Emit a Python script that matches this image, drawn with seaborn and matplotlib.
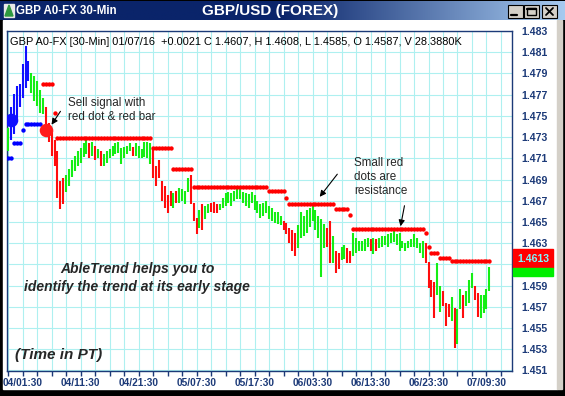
import matplotlib
matplotlib.use("Agg")
import numpy as np
import pandas as pd
import matplotlib.pyplot as plt
from matplotlib.patches import Rectangle, Polygon
from matplotlib.colors import LinearSegmentedColormap
import seaborn as sns

# ---- data (30-min bars, GBP/USD) ----
highs = [
    1.4739, 1.4758, 1.4771, 1.4778, 1.4780, 1.4799, 1.4816, 1.4802,
    1.4790, 1.4788, 1.4783, 1.4774, 1.4767,
    1.4758, 1.4743, 1.4736, 1.4727, 1.4717, 1.4689, 1.4691,
    1.4694, 1.4700, 1.4708, 1.4712, 1.4717, 1.4720, 1.4724, 1.4727,
    1.4724, 1.4725, 1.4722, 1.4719, 1.4717, 1.4714, 1.4717, 1.4719, 1.4722, 1.4724, 1.4725,
    1.4720, 1.4721, 1.4722, 1.4724, 1.4721, 1.4724, 1.4722, 1.4719, 1.4725, 1.4725, 1.4724,
    1.4719, 1.4703, 1.4708, 1.4689, 1.4684, 1.4675, 1.4679, 1.4677, 1.4679, 1.4682,
    1.4681, 1.4679, 1.4691, 1.4694,
    1.4668, 1.4654, 1.4661, 1.4667, 1.4665, 1.4667, 1.4668, 1.4669, 1.4667, 1.4667,
    1.4673, 1.4677, 1.4678, 1.4677, 1.4679, 1.4681, 1.4682, 1.4678, 1.4677, 1.4676,
    1.4678, 1.4675, 1.4670, 1.4667, 1.4668, 1.4670, 1.4665, 1.4663, 1.4659, 1.4659, 1.4656,
    1.4651, 1.4649, 1.4644, 1.4642, 1.4640,
    1.4647, 1.4659, 1.4656, 1.4661, 1.4663, 1.4665, 1.4661, 1.4656, 1.4653, 1.4648,
    1.4644, 1.4651, 1.4637, 1.4623, 1.4621, 1.4626, 1.4628, 1.4625, 1.4623,
    1.4640, 1.4635, 1.4632, 1.4632, 1.4634, 1.4635, 1.4634, 1.4635, 1.4634, 1.4635,
    1.4637, 1.4637, 1.4639, 1.4640, 1.4642, 1.4639, 1.4640, 1.4632, 1.4630, 1.4632,
    1.4634, 1.4639, 1.4635, 1.4630, 1.4632,
    1.4630, 1.4612, 1.4595, 1.4593, 1.4611, 1.4590, 1.4585, 1.4574, 1.4573, 1.4579,
    1.4569, 1.4568, 1.4587, 1.4581, 1.4585, 1.4595, 1.4602, 1.4590, 1.4583, 1.4581,
    1.4581, 1.4587, 1.4608,
]
lows = [
    1.4717, 1.4727, 1.4733, 1.4747, 1.4758, 1.4767, 1.4776, 1.4783,
    1.4772, 1.4764, 1.4759, 1.4753, 1.4752,
    1.4734, 1.4725, 1.4712, 1.4703, 1.4673, 1.4662, 1.4667,
    1.4678, 1.4684, 1.4692, 1.4698, 1.4703, 1.4706, 1.4711, 1.4714,
    1.4710, 1.4712, 1.4708, 1.4710, 1.4703, 1.4703, 1.4706, 1.4710, 1.4712, 1.4714, 1.4715,
    1.4705, 1.4710, 1.4714, 1.4717, 1.4712, 1.4712, 1.4710, 1.4710, 1.4711, 1.4710, 1.4705,
    1.4691, 1.4684, 1.4691, 1.4670, 1.4663, 1.4658, 1.4665, 1.4663, 1.4668, 1.4668,
    1.4670, 1.4667, 1.4678, 1.4667,
    1.4651, 1.4639, 1.4644, 1.4642, 1.4653, 1.4658, 1.4659, 1.4658, 1.4658, 1.4661,
    1.4663, 1.4665, 1.4668, 1.4665, 1.4670, 1.4672, 1.4672, 1.4668, 1.4665, 1.4663,
    1.4668, 1.4661, 1.4658, 1.4654, 1.4656, 1.4658, 1.4653, 1.4651, 1.4649, 1.4648, 1.4647,
    1.4642, 1.4639, 1.4630, 1.4623, 1.4618,
    1.4625, 1.4635, 1.4637, 1.4640, 1.4645, 1.4651, 1.4642, 1.4635, 1.4598, 1.4625,
    1.4626, 1.4611, 1.4611, 1.4602, 1.4606, 1.4614, 1.4615, 1.4611, 1.4611,
    1.4618, 1.4621, 1.4623, 1.4623, 1.4623, 1.4626, 1.4623, 1.4620, 1.4623, 1.4625,
    1.4626, 1.4628, 1.4626, 1.4630, 1.4631, 1.4628, 1.4623, 1.4625, 1.4623, 1.4625,
    1.4626, 1.4626, 1.4625, 1.4621, 1.4616,
    1.4611, 1.4588, 1.4579, 1.4559, 1.4581, 1.4565, 1.4571, 1.4552, 1.4560, 1.4557,
    1.4531, 1.4535, 1.4568, 1.4559, 1.4571, 1.4574, 1.4588, 1.4576, 1.4560, 1.4559,
    1.4564, 1.4568, 1.4585,
]
# B = blue (up trend), G = green, R = red (down trend)
bar_codes = ("GBBBBBBB" "GGGGG" "RRRRRRR" "GGGGGGGG"
             "RGRGRGGGGGGGGGGRGGGGGG" "RRRRRRRGRGGGGR" "RRGRGGRRRG"
             "GGGGGGGGGGGGGGGGGGGGG" "RRRRR" "GGGGGGGGGG" "RRGRRGGRR"
             "GGGGGGRGRGGGGGGGGGGGGGGGG" "RRRRGGRRRGRGGRGGGRRGGGG")

# (first bar, last bar, price) of the stop dots
resist_segments = [
    (12, 15, 1.4780), (16, 16, 1.4753), (17, 49, 1.4729), (50, 56, 1.4720),
    (57, 63, 1.4700), (64, 89, 1.4683), (90, 95, 1.4679), (96, 96, 1.4673),
    (97, 112, 1.4667), (113, 117, 1.4662), (118, 118, 1.4657), (119, 143, 1.4643),
    (144, 144, 1.4640), (145, 145, 1.4626), (146, 148, 1.4621), (149, 152, 1.4616),
    (153, 166, 1.4613),
]
support_segments = [(0, 1, 1.4710), (2, 4, 1.4724), (5, 5, 1.4737), (6, 11, 1.4742)]
sell_signal = (13, 1.4737)
buy_signal = (1, 1.4746)

price_ticks = [1.451, 1.453, 1.455, 1.457, 1.459, 1.461, 1.463, 1.465, 1.467,
               1.469, 1.471, 1.473, 1.475, 1.477, 1.479, 1.481, 1.483]
time_labels = ["04/01:30", "04/11:30", "04/21:30", "05/07:30", "05/17:30",
               "06/03:30", "06/13:30", "06/23:30", "07/09:30"]
last_price = "1.4613"
header = "GBP A0-FX [30-Min] 01/07/16  +0.0021 C 1.4607, H 1.4608, L 1.4585, O 1.4587, V 28.3880K"

# ---- tables ----
bars = pd.DataFrame({"bar": np.arange(len(highs)), "high": highs, "low": lows,
                     "code": list(bar_codes)})
resist = pd.DataFrame([(b, p) for a, e, p in resist_segments for b in range(a, e + 1)],
                      columns=["bar", "price"])
support = pd.DataFrame([(b, p) for a, e, p in support_segments for b in range(a, e + 1)],
                       columns=["bar", "price"])

sns.set_style("white")
plt.rcParams["font.family"] = ["Liberation Sans", "DejaVu Sans"]

navy = "#1c3a78"
grid_c = "#aef0f0"
code_colors = {"G": "#14ee14", "R": "#ff0d0d", "B": "#1010ff"}

fig = plt.figure(figsize=(5.65, 3.96), dpi=100)
fig.patch.set_facecolor("black")

# window chrome, pixel coordinates
bg = fig.add_axes([0, 0, 1, 1], zorder=0)
bg.set_xlim(0, 565)
bg.set_ylim(396, 0)
bg.axis("off")
bg.add_patch(Rectangle((3, 20), 554, 369, color="white"))
bg.add_patch(Rectangle((557, 20), 5, 369, color="#d4d0c8"))
cmap = LinearSegmentedColormap.from_list("title", ["#0a246a", "#0a246a", "#a6caf0"])
bg.imshow(np.linspace(0, 1, 256)[None, :], cmap=cmap, aspect="auto",
          extent=(0, 565, 20, 1), zorder=1)

# chart
ax = fig.add_axes([7 / 565, 25 / 396, 505 / 565, 340 / 396], zorder=1)
ax.set_facecolor("white")
ax.set_axisbelow(True)
ax.vlines(bars["bar"], bars["low"], bars["high"],
          colors=[code_colors[c] for c in bars["code"]], lw=1.5, zorder=3)
sns.scatterplot(data=resist, x="bar", y="price", color="#ff0000", s=10,
                linewidth=0, ax=ax, legend=False, zorder=4)
sns.scatterplot(data=support, x="bar", y="price", color="#0000ff", s=10,
                linewidth=0, ax=ax, legend=False, zorder=4)
ax.scatter([sell_signal[0]], [sell_signal[1]], s=95, color="#ff1a1a", zorder=5, linewidth=0)
ax.scatter([buy_signal[0]], [buy_signal[1]], s=95, color="#1010ff", zorder=5, linewidth=0)

ax.set_xlim(-0.4, 173.8)
ax.set_ylim(1.45095, 1.4830)
ax.set_xticks([5 + 20 * k for k in range(len(time_labels))])
ax.set_xticklabels(time_labels)
ax.set_xticks(np.arange(0, 175, 5), minor=True)
ax.set_yticks(price_ticks)
# the 1.461 label sits under the last-price box
ax.set_yticklabels(["" if f"{v:.4f}" == "1.4610" else f"{v:.3f}" for v in price_ticks])
ax.yaxis.tick_right()
ax.grid(True, which="both", color=grid_c, lw=0.8)
ax.tick_params(axis="x", which="both", bottom=True, length=3.6, width=1,
               color=navy, direction="out", pad=1.5, labelsize=7.3, labelcolor=navy)
ax.tick_params(axis="y", length=0, pad=6.5, labelsize=7.6, labelcolor=navy)
for lbl in ax.get_xticklabels() + ax.get_yticklabels():
    lbl.set_fontweight("bold")
for s in ax.spines.values():
    s.set_color(navy)
    s.set_linewidth(1.0)
ax.set_xlabel("")
ax.set_ylabel("")

# overlay text, pixel coordinates
top = fig.add_axes([0, 0, 1, 1], zorder=3)
top.set_xlim(0, 565)
top.set_ylim(396, 0)
top.axis("off")

top.add_patch(Rectangle((4, 4), 10, 13, color="#e8e8e8"))
top.add_patch(Polygon([(5, 16), (9, 5), (13, 16)], closed=True, color="#2f9a40"))
top.text(16, 11, "GBP A0-FX 30-Min", color="white", fontsize=8.3,
         fontweight="bold", va="center")
top.text(270, 11, "GBP/USD (FOREX)", color="white", fontsize=11,
         fontweight="bold", va="center", ha="center")
for x0 in (508, 524, 542):
    top.add_patch(Rectangle((x0, 5), 15, 13, facecolor="#d4d0c8",
                            edgecolor="black", lw=0.8))
top.plot([511, 517], [15, 15], color="black", lw=1.6)
top.add_patch(Rectangle((527, 8), 9, 7, fill=False, edgecolor="black", lw=1.0))
top.plot([527, 536], [8.5, 8.5], color="black", lw=1.6)
top.plot([546, 553], [8, 15], color="black", lw=1.3)
top.plot([546, 553], [15, 8], color="black", lw=1.3)

top.text(10, 42, header, fontsize=7.9, va="center", color="black")

top.add_patch(Rectangle((513, 249), 40, 19, color="#ff0000"))
top.add_patch(Rectangle((513, 268), 40, 8, color="#00ee00"))
top.text(533, 259, last_price, color="#7ff8ff", fontsize=7.6,
         fontweight="bold", ha="center", va="center")

top.text(68, 109.7, "Sell signal with\nred dot & red bar", fontsize=8.4,
         va="center", linespacing=1.2)
top.annotate("", xy=(50, 127), xytext=(62, 109),
             arrowprops=dict(arrowstyle="-|>", color="black", lw=0.8, mutation_scale=9))
top.text(354, 177, "Small red\ndots are\nresistance", fontsize=8.4,
         va="center", linespacing=1.2)
top.annotate("", xy=(318, 199), xytext=(339, 172),
             arrowprops=dict(arrowstyle="-|>", color="black", lw=0.8, mutation_scale=9))
top.annotate("", xy=(400, 229), xytext=(405, 203),
             arrowprops=dict(arrowstyle="-|>", color="black", lw=0.8, mutation_scale=9))
top.text(137, 278, "AbleTrend helps you to\nidentify the trend at its early stage",
         fontsize=10, fontweight="bold", fontstyle="italic", ha="center",
         va="center", multialignment="center", linespacing=1.3)
top.text(15, 355, "(Time in PT)", fontsize=11, fontweight="bold",
         fontstyle="italic", va="center")

fig.savefig("out.png", dpi=100, facecolor=fig.get_facecolor())
